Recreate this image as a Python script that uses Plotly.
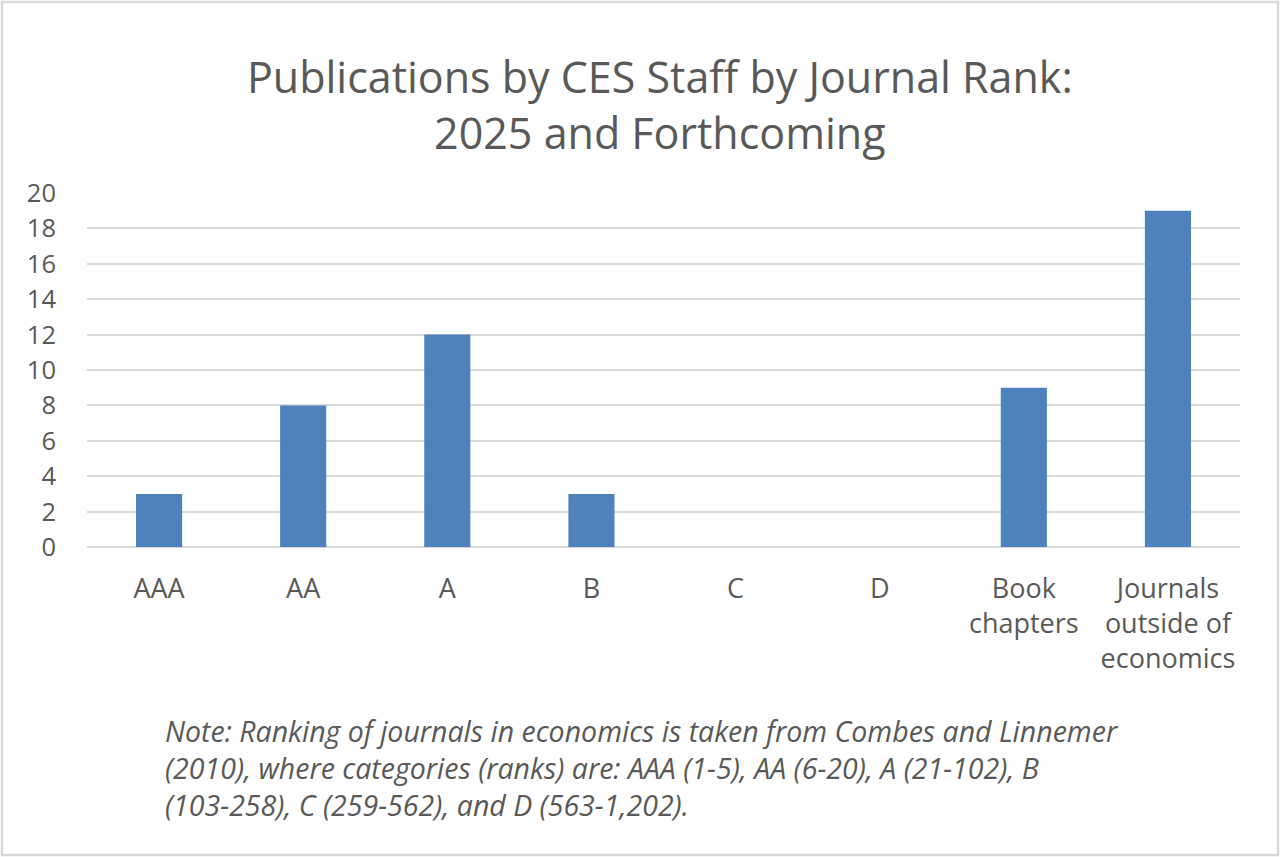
import plotly.graph_objects as go

categories = ["AAA", "AA", "A", "B", "C", "D", "Book<br>chapters", "Journals<br>outside of<br>economics"]
values = [3, 8, 12, 3, 0, 0, 9, 19]
y_ticks = [0, 2, 4, 6, 8, 10, 12, 14, 16, 18, 20]
note_lines = [
    "Note: Ranking of journals in economics is taken from Combes and Linnemer",
    "(2010), where categories (ranks) are: AAA (1-5), AA (6-20), A (21-102), B",
    "(103-258), C (259-562), and D (563-1,202).",
]

W, H = 1280, 857
ML, MR, MT, MB = 87, 40, 193, 310
PW, PH = W - ML - MR, H - MT - MB
FONT = "Open Sans"
TXT = "#595959"

fig = go.Figure(go.Bar(x=categories, y=values, marker=dict(color="#4f81bd", line=dict(width=0)), hoverinfo="x+y"))

note_center = 768
annotations = [dict(
    text="<i>" + "<br>".join(note_lines) + "</i>", xref="paper", yref="paper",
    x=(163 - ML) / PW, y=(H - MB - note_center) / PH, xanchor="left", yanchor="middle",
    align="left", showarrow=False, font=dict(family=FONT, size=28.5, color=TXT),
)]

fig.update_layout(
    width=W, height=H,
    margin=dict(l=ML, r=MR, t=MT, b=MB, pad=0),
    paper_bgcolor="white", plot_bgcolor="white",
    bargap=0.68,
    showlegend=False,
    font=dict(family=FONT, color=TXT, size=25),
    title=dict(
        text="Publications by CES Staff by Journal Rank:<br>2025 and Forthcoming",
        x=0.5155, xanchor="center", y=1 - 93 / H, yanchor="middle", yref="container",
        font=dict(family=FONT, size=43, color=TXT),
    ),
    xaxis=dict(
        type="category", showgrid=False, showline=False, ticks="",
        tickfont=dict(size=27, color=TXT), ticklabelstandoff=23,
    ),
    yaxis=dict(
        range=[0, 20], tickvals=y_ticks, showgrid=True, gridcolor="#d9d9d9", gridwidth=1.5,
        zeroline=True, zerolinecolor="#d9d9d9", zerolinewidth=1.5, showline=False, ticks="",
        tickfont=dict(size=25.5, color=TXT), ticklabelstandoff=30,
    ),
    shapes=[dict(
        type="rect", xref="paper", yref="paper",
        x0=(2 - ML) / PW, x1=(W - 2 - ML) / PW,
        y0=-(MB - 2) / PH, y1=1 + (MT - 2) / PH,
        line=dict(color="#d9d9d9", width=2.5), fillcolor="rgba(0,0,0,0)", layer="below",
    )],
    annotations=annotations,
)

fig.write_html(
    "out.html",
    config={"displayModeBar": False},
    post_script="document.body.style.margin='0';document.body.style.overflow='hidden';",
)
